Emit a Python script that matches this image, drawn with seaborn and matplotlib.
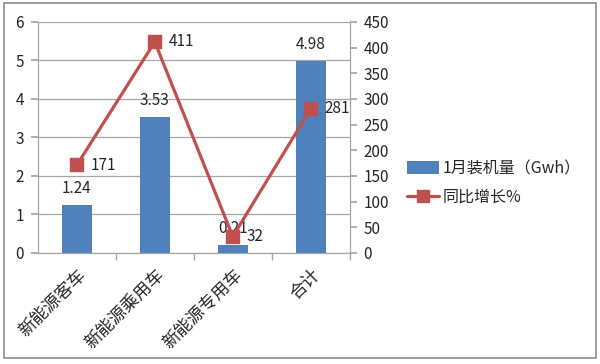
import matplotlib
matplotlib.use("Agg")
import matplotlib.pyplot as plt
import seaborn as sns
import pandas as pd
from matplotlib.patches import Rectangle
from matplotlib.lines import Line2D
from matplotlib.patches import Patch

categories = ["新能源客车", "新能源乘用车", "新能源专用车", "合计"]
installed = [1.24, 3.53, 0.21, 4.98]
yoy = [171, 411, 32, 281]
bar_label_text = ["1.24", "3.53", "0.21", "4.98"]
line_label_text = ["171", "411", "32", "281"]
left_ticks = [0, 1, 2, 3, 4, 5, 6]
right_ticks = [0, 50, 100, 150, 200, 250, 300, 350, 400, 450]
legend_labels = ["1月装机量（Gwh）", "同比增长%"]

sns.set_theme(style="white")
plt.rcParams["font.family"] = ["Noto Sans CJK SC", "DejaVu Sans"]

BLUE = "#4F81BD"
RED = "#C0504D"
GRID = "#A6A6A6"
TXT = "#262626"
NUM = 11

df = pd.DataFrame({"cat": categories, "val": installed, "yoy": yoy})

fig = plt.figure(figsize=(6, 3.64), dpi=100)
ax = fig.add_axes([0.063, 0.305, 0.52, 0.635])

sns.barplot(data=df, x="cat", y="val", ax=ax, color=BLUE, width=0.39,
            saturation=1, edgecolor="none")
ax.set_ylim(0, 6)
ax.set_yticks(left_ticks)
ax.yaxis.grid(True, color=GRID, linewidth=0.9)
ax.set_axisbelow(True)
ax.set_xlabel("")
ax.set_ylabel("")
for s in ["top", "right"]:
    ax.spines[s].set_visible(False)
for s in ["left", "bottom"]:
    ax.spines[s].set_color(GRID)
    ax.spines[s].set_linewidth(0.9)
ax.tick_params(axis="y", left=True, length=5, color=GRID, labelsize=NUM,
               labelcolor=TXT, pad=5)
ax.tick_params(axis="x", bottom=False, labelsize=12.5, labelcolor=TXT, pad=3)
ax.set_xticks(range(len(categories)))
ax.set_xticklabels(categories, rotation=45, ha="right", rotation_mode="anchor")
ax.set_xticks([0.5, 1.5, 2.5, 3.5], minor=True)
ax.tick_params(axis="x", which="minor", bottom=True, length=5, color=GRID)
ax.set_xlim(-0.5, 3.5)

for i, (v, t) in enumerate(zip(installed, bar_label_text)):
    ax.annotate(t, (i, v), xytext=(0, 6), textcoords="offset points",
                ha="center", va="bottom", fontsize=NUM, color=TXT)

ax2 = ax.twinx()
sns.pointplot(data=df, x="cat", y="yoy", ax=ax2, color=RED, markers="s",
              markersize=9, linewidth=2.3, errorbar=None)
ax2.set_ylim(0, 450)
ax2.set_yticks(right_ticks)
ax2.set_xlim(-0.5, 3.5)
ax2.set_ylabel("")
ax2.set_xlabel("")
for s in ["top", "left", "bottom"]:
    ax2.spines[s].set_visible(False)
ax2.spines["right"].set_color(GRID)
ax2.spines["right"].set_linewidth(0.9)
ax2.tick_params(axis="y", right=True, length=5, color=GRID, labelsize=NUM,
                labelcolor=TXT, pad=5)
ax2.grid(False)
for i, (v, t) in enumerate(zip(yoy, line_label_text)):
    ax2.annotate(t, (i, v), xytext=(10, 0), textcoords="offset points",
                 ha="left", va="center", fontsize=NUM, color=TXT)

handles = [Patch(facecolor=BLUE, edgecolor="none"),
           Line2D([0], [0], color=RED, linewidth=2.3, marker="s", markersize=8)]
fig.legend(handles, legend_labels, loc="center left",
           bbox_to_anchor=(0.655, 0.497), frameon=False, fontsize=11.5,
           handlelength=2.0, handleheight=0.8, handletextpad=0.2,
           labelspacing=0.75, labelcolor=TXT)

fig.patches.append(Rectangle((0.006, 0.016), 0.988, 0.975,
                             transform=fig.transFigure, fill=False,
                             edgecolor="#8C8C8C", linewidth=1.2))

fig.savefig("out.png", dpi=100)
